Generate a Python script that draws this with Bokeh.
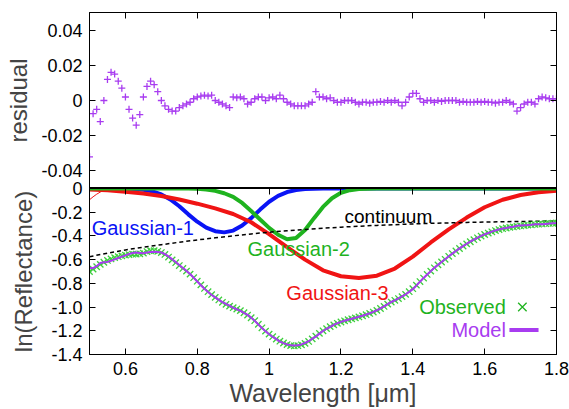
from bokeh.plotting import figure
from bokeh.layouts import column
from bokeh.models import LinearAxis, FixedTicker, Range1d
from bokeh.core.properties import value
from bokeh.embed import file_html
from bokeh.resources import INLINE

FONT = "Liberation Sans"

# ---------------- data ----------------
wavelength = [0.50, 0.51, 0.52, 0.53, 0.54, 0.55, 0.56, 0.57, 0.58, 0.59,
              0.60, 0.61, 0.62, 0.63, 0.64, 0.65, 0.66, 0.67, 0.68, 0.69,
              0.70, 0.71, 0.72, 0.73, 0.74, 0.75, 0.76, 0.77, 0.78, 0.79,
              0.80, 0.81, 0.82, 0.83, 0.84, 0.85, 0.86, 0.87, 0.88, 0.89,
              0.90, 0.91, 0.92, 0.93, 0.94, 0.95, 0.96, 0.97, 0.98, 0.99,
              1.00, 1.01, 1.02, 1.03, 1.04, 1.05, 1.06, 1.07, 1.08, 1.09,
              1.10, 1.11, 1.12, 1.13, 1.14, 1.15, 1.16, 1.17, 1.18, 1.19,
              1.20, 1.21, 1.22, 1.23, 1.24, 1.25, 1.26, 1.27, 1.28, 1.29,
              1.30, 1.31, 1.32, 1.33, 1.34, 1.35, 1.36, 1.37, 1.38, 1.39,
              1.40, 1.41, 1.42, 1.43, 1.44, 1.45, 1.46, 1.47, 1.48, 1.49,
              1.50, 1.51, 1.52, 1.53, 1.54, 1.55, 1.56, 1.57, 1.58, 1.59,
              1.60, 1.61, 1.62, 1.63, 1.64, 1.65, 1.66, 1.67, 1.68, 1.69,
              1.70, 1.71, 1.72, 1.73, 1.74, 1.75, 1.76, 1.77, 1.78, 1.79,
              1.80]

observed = [-0.700, -0.680, -0.660, -0.640, -0.622, -0.607, -0.594, -0.583, -0.575, -0.568,
            -0.562, -0.557, -0.554, -0.553, -0.551, -0.545, -0.532, -0.525, -0.524, -0.530,
            -0.540, -0.556, -0.578, -0.602, -0.626, -0.650, -0.674, -0.697, -0.722, -0.752,
            -0.782, -0.813, -0.843, -0.870, -0.895, -0.918, -0.940, -0.960, -0.977, -0.992,
            -1.005, -1.017, -1.030, -1.048, -1.068, -1.090, -1.115, -1.145, -1.175, -1.203,
            -1.228, -1.250, -1.270, -1.288, -1.303, -1.316, -1.325, -1.328, -1.326, -1.318,
            -1.306, -1.290, -1.268, -1.245, -1.222, -1.200, -1.182, -1.165, -1.150, -1.137,
            -1.126, -1.116, -1.107, -1.099, -1.091, -1.083, -1.074, -1.064, -1.054, -1.042,
            -1.028, -1.012, -0.995, -0.975, -0.958, -0.943, -0.928, -0.912, -0.893, -0.870,
            -0.845, -0.815, -0.785, -0.755, -0.725, -0.697, -0.669, -0.644, -0.620, -0.597,
            -0.572, -0.549, -0.527, -0.506, -0.486, -0.467, -0.449, -0.432, -0.416, -0.401,
            -0.388, -0.376, -0.365, -0.355, -0.346, -0.339, -0.333, -0.328, -0.324, -0.320,
            -0.316, -0.312, -0.309, -0.306, -0.303, -0.301, -0.299, -0.297, -0.295, -0.293,
            -0.291]

residual = [-0.032, -0.0075, -0.005, -0.012, 0.000, 0.012, 0.016, 0.015, 0.011, 0.007,
            0.002, -0.005, -0.010, -0.014, -0.008, 0.002, 0.008, 0.011, 0.009, 0.005,
            0.000, -0.003, -0.005, -0.006, -0.006, -0.004, -0.003, -0.002, -0.001, 0.001,
            0.002, 0.0025, 0.003, 0.0025, 0.003, 0.000, -0.001, -0.002, -0.003, -0.004,
            0.002, 0.0015, 0.002, 0.001, -0.002, -0.001, 0.001, 0.002, 0.002, 0.000,
            0.0015, 0.002, 0.001, 0.003, 0.001, -0.001, -0.002, -0.003, -0.003, -0.003,
            -0.003, -0.002, -0.001, 0.005, 0.002, 0.002, 0.001, 0.0015, 0.000, -0.001,
            -0.001, 0.000, 0.000, 0.000, -0.001, -0.002, -0.001, -0.001, -0.0015, -0.001,
            -0.001, -0.0005, -0.001, 0.000, -0.001, 0.000, -0.001, -0.003, -0.001, 0.002,
            0.004, 0.004, 0.001, -0.001, 0.000, 0.000, -0.001, 0.000, -0.0005, 0.000,
            0.000, 0.000, 0.000, -0.001, -0.0005, -0.001, -0.001, -0.001, -0.0005, -0.001,
            -0.0005, -0.001, -0.001, -0.0015, -0.001, -0.001, 0.000, -0.001, -0.002, -0.006,
            -0.004, -0.002, -0.001, -0.001, -0.002, 0.001, 0.002, 0.0015, 0.001, 0.001,
            0.001]

# model = observed - residual
model = [o - r for o, r in zip(observed, residual)]

gauss_wl = [0.500, 0.525, 0.550, 0.575, 0.600, 0.625, 0.650, 0.675, 0.700, 0.725,
            0.750, 0.775, 0.800, 0.825, 0.850, 0.875, 0.900, 0.925, 0.950, 0.975,
            1.000, 1.025, 1.050, 1.075, 1.100, 1.125, 1.150, 1.175, 1.200, 1.225,
            1.250, 1.275, 1.300, 1.325, 1.350, 1.375, 1.400, 1.425, 1.450, 1.475,
            1.500, 1.525, 1.550, 1.575, 1.600, 1.625, 1.650, 1.675, 1.700, 1.725,
            1.750, 1.775, 1.800]

gaussian1 = [0.0, 0.0, 0.0, -0.001, -0.002, -0.005, -0.011, -0.024, -0.050, -0.092,
             -0.150, -0.218, -0.280, -0.330, -0.360, -0.370, -0.355, -0.312, -0.250, -0.178,
             -0.112, -0.062, -0.030, -0.013, -0.005, -0.002, 0.0, 0.0, 0.0, 0.0,
             0.0, 0.0, 0.0, 0.0, 0.0, 0.0, 0.0, 0.0, 0.0, 0.0,
             0.0, 0.0, 0.0, 0.0, 0.0, 0.0, 0.0, 0.0, 0.0, 0.0,
             0.0, 0.0, 0.0]

gaussian2 = [0.0, 0.0, 0.0, 0.0, 0.0, 0.0, 0.0, 0.0, 0.0, 0.0,
             0.0, 0.0, -0.002, -0.008, -0.020, -0.040, -0.070, -0.122, -0.190, -0.262,
             -0.332, -0.390, -0.428, -0.418, -0.350, -0.250, -0.155, -0.082, -0.036, -0.014,
             -0.005, -0.002, 0.0, 0.0, 0.0, 0.0, 0.0, 0.0, 0.0, 0.0,
             0.0, 0.0, 0.0, 0.0, 0.0, 0.0, 0.0, 0.0, 0.0, 0.0,
             0.0, 0.0, 0.0]

wide_wl = [0.50, 0.55, 0.60, 0.65, 0.70, 0.75, 0.80, 0.85, 0.90, 0.95,
           1.00, 1.05, 1.10, 1.15, 1.20, 1.25, 1.30, 1.35, 1.40, 1.45,
           1.50, 1.55, 1.60, 1.65, 1.70, 1.75, 1.80]

gaussian3 = [-0.008, -0.015, -0.027, -0.043, -0.064, -0.093, -0.128, -0.168, -0.215, -0.285,
             -0.385, -0.495, -0.600, -0.690, -0.740, -0.755, -0.735, -0.675, -0.575, -0.455,
             -0.345, -0.245, -0.158, -0.095, -0.055, -0.032, -0.018]

continuum = [-0.575, -0.545, -0.518, -0.495, -0.474, -0.453, -0.434, -0.416, -0.399, -0.383,
             -0.369, -0.356, -0.345, -0.335, -0.326, -0.318, -0.311, -0.305, -0.299, -0.294,
             -0.290, -0.286, -0.283, -0.280, -0.278, -0.276, -0.274]

edge_wl = [0.50, 0.51, 0.52, 0.53, 0.54, 0.55, 0.56, 0.57]
edge_red = [-0.095, -0.070, -0.048, -0.030, -0.017, -0.008, -0.003, 0.0]

x_ticks = [0.6, 0.8, 1.0, 1.2, 1.4, 1.6, 1.8]
x_tick_labels = ["0.6", "0.8", "1", "1.2", "1.4", "1.6", "1.8"]
res_ticks = [-0.04, -0.02, 0.0, 0.02, 0.04]
res_tick_labels = ["-0.04", "-0.02", "0", "0.02", "0.04"]
ln_ticks = [-1.4, -1.2, -1.0, -0.8, -0.6, -0.4, -0.2, 0.0]
ln_tick_labels = ["-1.4", "-1.2", "-1.0", "-0.8", "-0.6", "-0.4", "-0.2", "0"]

# ---------------- styling ----------------
PURPLE = "#a83cf0"
GREEN_LINE = "#1fb31f"
GREEN_MARK = "#3ccf3c"
BLUE = "#0a14f5"
RED = "#f01414"
TICK_PT = "18px"
LABEL_PT = "24px"
OVERLAP = 8


def style_axis(ax, ticks, labels=None, show_labels=True):
    ax.ticker = FixedTicker(ticks=ticks)
    ax.major_tick_in = 6
    ax.major_tick_out = 0
    ax.minor_tick_line_color = None
    ax.axis_line_color = "black"
    ax.major_tick_line_color = "black"
    ax.major_label_text_font = FONT
    if show_labels:
        ax.major_label_text_font_size = TICK_PT
        ax.major_label_text_color = "black"
        ax.major_label_overrides = {t: l for t, l in zip(ticks, labels)}
    else:
        ax.major_label_text_font_size = "0px"
        ax.major_label_standoff = 0
        ax.major_label_overrides = {t: "" for t in ticks}


xr_top = Range1d(0.5, 1.8)
xr_bot = Range1d(0.5, 1.8)

# ---------------- top panel: residual ----------------
top = figure(width=569, height=188, x_range=xr_top, y_range=Range1d(-0.05, 0.05),
             output_backend="svg", toolbar_location=None, x_axis_location="above",
             min_border_left=89, min_border_right=13, min_border_top=12, min_border_bottom=0)
top.grid.visible = False
top.outline_line_color = "black"
top.background_fill_color = "white"
style_axis(top.xaxis[0], x_ticks, show_labels=False)
style_axis(top.yaxis[0], res_ticks, res_tick_labels)
top.yaxis[0].major_label_standoff = 7
top.yaxis[0].axis_label = "residual"
top.yaxis[0].axis_label_text_font = FONT
top.yaxis[0].axis_label_text_font_size = LABEL_PT
top.yaxis[0].axis_label_text_font_style = "normal"
top.yaxis[0].axis_label_standoff = 6
r_ax = LinearAxis()
style_axis(r_ax, res_ticks, show_labels=False)
top.add_layout(r_ax, "right")

top.scatter(wavelength, residual, marker="cross", size=7, line_color=PURPLE, line_width=1.3)

# ---------------- bottom panel: ln(Reflectance) ----------------
bot = figure(width=569, height=221 + OVERLAP, x_range=xr_bot, y_range=Range1d(-1.4, 0.0),
             output_backend="svg", toolbar_location=None,
             min_border_left=89, min_border_right=13, min_border_top=OVERLAP, min_border_bottom=51,
             margin=(-OVERLAP, 0, 0, 0))
bot.grid.visible = False
bot.outline_line_color = "black"
bot.background_fill_color = "white"
bot.border_fill_color = None
style_axis(bot.xaxis[0], x_ticks, x_tick_labels)
bot.xaxis[0].major_label_standoff = 7
bot.xaxis[0].axis_label = "Wavelength [\u03bcm]"
bot.xaxis[0].axis_label_text_font = FONT
bot.xaxis[0].axis_label_text_font_size = "25px"
bot.xaxis[0].axis_label_text_font_style = "normal"
bot.xaxis[0].axis_label_standoff = 1
style_axis(bot.yaxis[0], ln_ticks, ln_tick_labels)
bot.yaxis[0].major_label_standoff = 7
bot.yaxis[0].axis_label = "ln(Reflectance)"
bot.yaxis[0].axis_label_text_font = FONT
bot.yaxis[0].axis_label_text_font_size = LABEL_PT
bot.yaxis[0].axis_label_text_font_style = "normal"
bot.yaxis[0].axis_label_standoff = 11
ra = LinearAxis()
style_axis(ra, ln_ticks, show_labels=False)
bot.add_layout(ra, "right")
ta = LinearAxis()
style_axis(ta, x_ticks, show_labels=False)
bot.add_layout(ta, "above")

bot.line(edge_wl, edge_red, line_color=RED, line_width=1)
bot.line(gauss_wl, gaussian1, line_color=BLUE, line_width=4)
bot.line(wide_wl, gaussian3, line_color=RED, line_width=4)
bot.line(gauss_wl, gaussian2, line_color=GREEN_LINE, line_width=4)
bot.line(wide_wl, continuum, line_color="black", line_width=1.5, line_dash="4 3")
bot.scatter(wavelength, observed, marker="x", size=9, line_color=GREEN_MARK, line_width=1.3)
bot.line(wavelength, model, line_color=PURPLE, line_width=2)

# annotations (labels and legend keys)
bot.text(x=[0.506], y=[-0.33], text=["Gaussian-1"], text_color=BLUE,
         text_font=value(FONT), text_font_size="20px", text_baseline="middle", text_align="left")
bot.text(x=[0.94], y=[-0.514], text=["Gaussian-2"], text_color=GREEN_LINE,
         text_font=value(FONT), text_font_size="20px", text_baseline="middle", text_align="left")
bot.text(x=[1.048], y=[-0.878], text=["Gaussian-3"], text_color=RED,
         text_font=value(FONT), text_font_size="20px", text_baseline="middle", text_align="left")
bot.text(x=[1.21], y=[-0.232], text=["continuum"], text_color="black",
         text_font=value(FONT), text_font_size="19px", text_baseline="middle", text_align="left")
bot.text(x=[1.659], y=[-1.0], text=["Observed"], text_color=GREEN_LINE,
         text_font=value(FONT), text_font_size="20px", text_baseline="middle", text_align="right")
bot.text(x=[1.659], y=[-1.193], text=["Model"], text_color=PURPLE,
         text_font=value(FONT), text_font_size="20px", text_baseline="middle", text_align="right")
bot.scatter([1.705], [-1.0], marker="x", size=12, line_color=GREEN_LINE, line_width=1.3)
bot.line([1.669, 1.75], [-1.193, -1.193], line_color=PURPLE, line_width=4)

layout = column(top, bot, spacing=0)
open("out.html", "w").write(file_html(layout, INLINE))
